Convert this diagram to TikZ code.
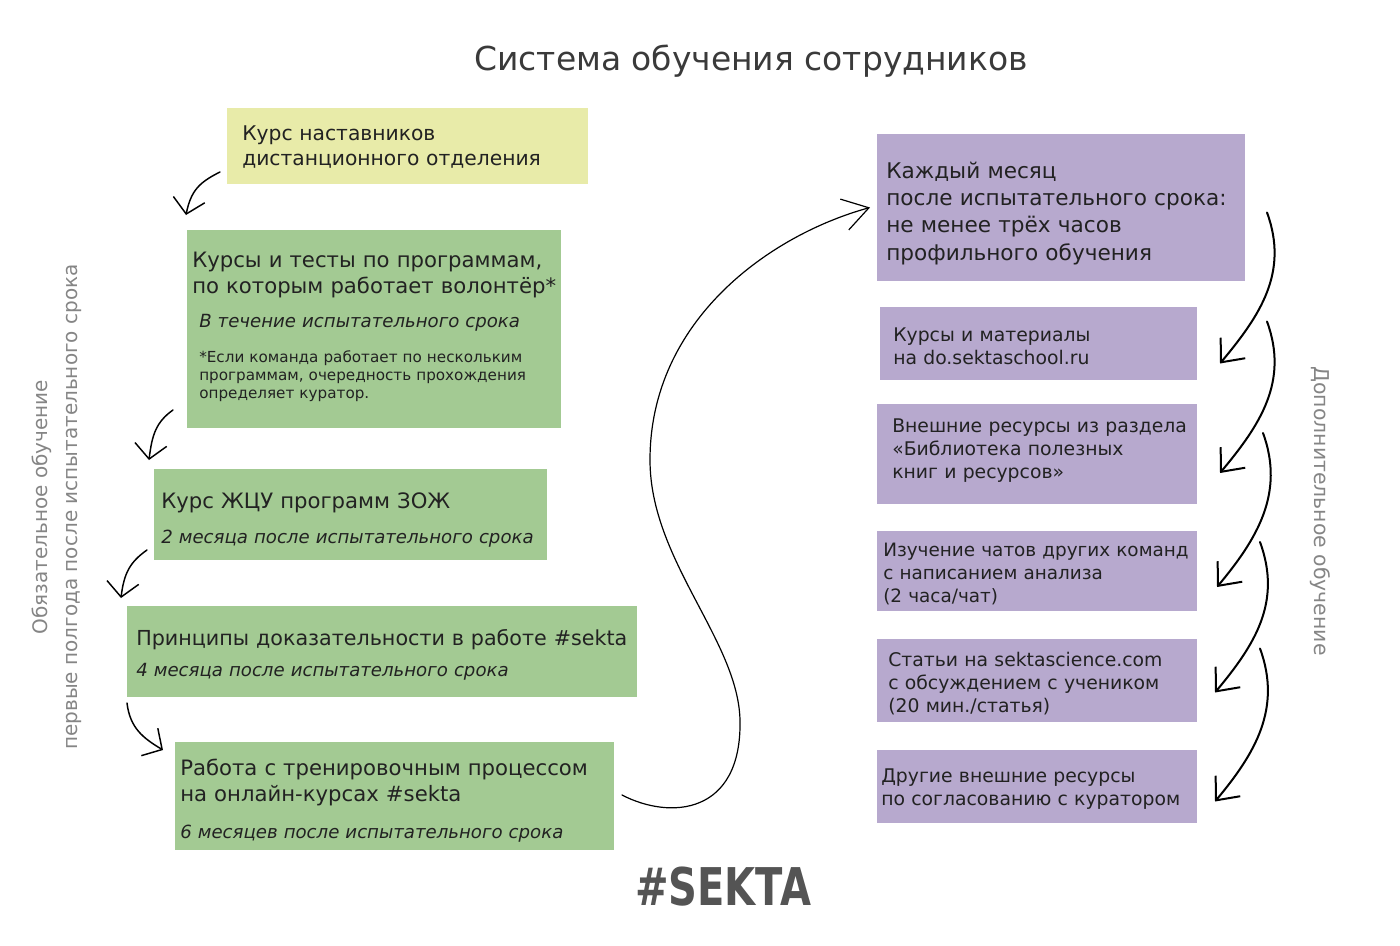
\documentclass[tikz,border=0pt]{standalone}
\usepackage{fontspec}
\setmainfont{DejaVu Sans}
\usetikzlibrary{arrows.meta,fit}
\definecolor{kursyellow}{HTML}{E8EBA9}
\definecolor{kursgreen}{HTML}{A3CA93}
\definecolor{kurspurple}{HTML}{B7A9CE}
\definecolor{ink}{HTML}{222222}
\definecolor{titlegray}{HTML}{3A3A3A}
\definecolor{sidegray}{HTML}{858585}
\definecolor{logogray}{HTML}{545454}
\tikzset{
  box/.style={inner sep=0pt, outer sep=0pt},
  ybox/.style={box, fill=kursyellow},
  gbox/.style={box, fill=kursgreen},
  pbox/.style={box, fill=kurspurple},
  txt/.style={anchor=base west, inner sep=0pt, text width=14cm, align=left, text=ink},
  yel/.style={txt, font=\fontsize{15.2}{18.8}\selectfont},
  big/.style={txt, font=\fontsize{15.9}{19.5}\selectfont},
  head/.style={txt, font=\fontsize{16.2}{20.6}\selectfont},
  mid/.style={txt, font=\fontsize{14.1}{17.6}\selectfont},
  ital/.style={txt, font=\fontsize{13.6}{16}\selectfont\itshape},
  small/.style={txt, font=\fontsize{11.4}{13.5}\selectfont},
  side/.style={anchor=base, inner sep=0pt, text=sidegray, font=\fontsize{15}{18}\selectfont},
  lhand/.style={line width=1.1pt, line cap=round, -{Straight Barb[length=11pt,width=24pt]}},
  rhand/.style={line width=1.5pt, line cap=round, -{Straight Barb[length=14pt,width=24pt]}},
  scurve/.style={line width=0.9pt, line cap=round, -{Straight Barb[length=19pt,width=24pt]}}
}

\begin{document}
\begin{tikzpicture}[x=0.75pt,y=-0.75pt]
  \useasboundingbox (0,0) rectangle (1400,946);

  \node[anchor=base, text=titlegray, font=\fontsize{24.7}{30}\selectfont] (title) at (751,70) {Система обучения сотрудников};

  % mandatory part
  \node[ybox, fit={(227,108) (588,184)}] (mentor) {};
  \node[gbox, fit={(187,230) (561,428)}] (programs) {};
  \node[gbox, fit={(154,469) (547,560)}] (zhcu) {};
  \node[gbox, fit={(127,606) (637,697)}] (evidence) {};
  \node[gbox, fit={(175,742) (614,850)}] (training) {};

  \node[yel] (mentortxt) at ([shift={(15,32)}]mentor.north west) {Курс наставников\\дистанционного отделения};
  \node[big] (programstxt) at ([shift={(5,37)}]programs.north west) {Курсы и тесты по программам,\\по которым работает волонтёр*};
  \node[ital] (programsterm) at ([shift={(12,97)}]programs.north west) {В течение испытательного срока};
  \node[small] (programsnote) at ([shift={(12,132)}]programs.north west) {*Если команда работает по нескольким\\программам, очередность прохождения\\определяет куратор.};
  \node[big] (zhcutxt) at ([shift={(7,39)}]zhcu.north west) {Курс ЖЦУ программ ЗОЖ};
  \node[ital] (zhcuterm) at ([shift={(7,74)}]zhcu.north west) {2 месяца после испытательного срока};
  \node[big, font=\fontsize{15.5}{19.5}\selectfont] (evidencetxt) at ([shift={(9,39)}]evidence.north west) {Принципы доказательности в работе \#sekta};
  \node[ital] (evidenceterm) at ([shift={(9,70)}]evidence.north west) {4 месяца после испытательного срока};
  \node[big] (trainingtxt) at ([shift={(5,33)}]training.north west) {Работа с тренировочным процессом\\на онлайн-курсах \#sekta};
  \node[ital] (trainingterm) at ([shift={(5,96)}]training.north west) {6 месяцев после испытательного срока};

  \draw[lhand] ([shift={(-7,26)}]mentor.west) .. controls +(-20,10) and +(5,-25) .. ([shift={(-1,-15)}]programs.north west);
  \draw[lhand] ([shift={(-14,-18)}]programs.south west) .. controls +(-17,12) and +(3,-25) .. ([shift={(-5,-9)}]zhcu.north west);
  \draw[lhand] ([shift={(-7,-10)}]zhcu.south west) .. controls +(-17,12) and +(3,-25) .. ([shift={(-6,-8)}]evidence.north west);
  \draw[lhand] ([shift={(0,6)}]evidence.south west) .. controls +(3,25) and +(-20,-12) .. ([shift={(-12,8)}]training.north west);

  \node[side, rotate=90] (must) at (47,507) {Обязательное обучение};
  \node[side, rotate=90] (halfyear) at (77,507) {первые полгода после испытательного срока};

  % additional part
  \node[pbox, fit={(877,134) (1245,281)}] (monthly) {};
  \node[pbox, fit={(880,307) (1197,380)}] (courses) {};
  \node[pbox, fit={(877,404) (1197,504)}] (library) {};
  \node[pbox, fit={(877,531) (1197,611)}] (chats) {};
  \node[pbox, fit={(877,639) (1197,722)}] (articles) {};
  \node[pbox, fit={(877,750) (1197,823)}] (other) {};

  \node[head] (monthlytxt) at ([shift={(9,44)}]monthly.north west) {Каждый месяц\\после испытательного срока:\\не менее трёх часов\\профильного обучения};
  \node[mid] (coursestxt) at ([shift={(13,34)}]courses.north west) {Курсы и материалы\\на do.sektaschool.ru};
  \node[mid] (librarytxt) at ([shift={(15,28)}]library.north west) {Внешние ресурсы из раздела\\«Библиотека полезных\\книг и ресурсов»};
  \node[mid, font=\fontsize{13.8}{17.6}\selectfont] (chatstxt) at ([shift={(6,25)}]chats.north west) {Изучение чатов других команд\\с написанием анализа\\(2 часа/чат)};
  \node[mid] (articlestxt) at ([shift={(11,27)}]articles.north west) {Статьи на sektascience.com\\с обсуждением с учеником\\(20 мин./статья)};
  \node[mid] (othertxt) at ([shift={(4,32)}]other.north west) {Другие внешние ресурсы\\по согласованию с куратором};

  \foreach \a/\b/\sx/\sy/\tx/\ty in {monthly/courses/22/5/23/20, courses/library/70/-22/23/19,
      library/chats/66/-21/20/16, chats/articles/63/-29/18/12, articles/other/63/-32/18/15}
    \draw[rhand] ([shift={(\sx,\sy)}]\a.east) .. controls +(22,60) and +(40,-48) .. ([shift={(\tx,\ty)}]\b.east);

  \node[side, rotate=-90, font=\fontsize{15.3}{18}\selectfont] (extra) at (1314,511) {Дополнительное обучение};

  % from the last course to the monthly part
  \draw[scurve] ([shift={(8,-1)}]training.east) .. controls (670,820) and (742,815) .. (740,720)
    .. controls (738,640) and (650,560) .. (650,460) .. controls (650,320) and (770,235) .. ([shift={(-7,0)}]monthly.west);

  \node[anchor=base, text=logogray, font=\fontsize{39}{40}\selectfont\bfseries] (logo) at (723,905) {\scalebox{0.77}[1]{\#SEKTA}};
\end{tikzpicture}
\end{document}
